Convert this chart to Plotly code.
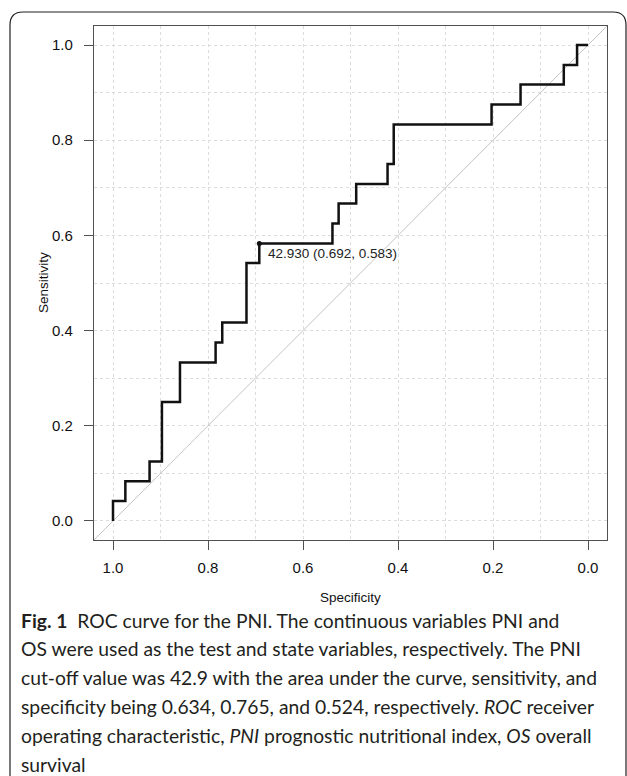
import plotly.graph_objects as go

# ---- data ----
specificity = [1.0, 1.0, 0.974, 0.974, 0.923, 0.923, 0.897, 0.897, 0.859, 0.859,
               0.784, 0.784, 0.770, 0.770, 0.719, 0.719, 0.692, 0.692, 0.538, 0.538,
               0.525, 0.525, 0.488, 0.488, 0.422, 0.422, 0.409, 0.409, 0.203, 0.203,
               0.142, 0.142, 0.051, 0.051, 0.023, 0.023, 0.0]
sensitivity = [0.0, 0.0417, 0.0417, 0.0833, 0.0833, 0.125, 0.125, 0.25, 0.25, 0.333,
               0.333, 0.375, 0.375, 0.417, 0.417, 0.542, 0.542, 0.583, 0.583, 0.625,
               0.625, 0.667, 0.667, 0.708, 0.708, 0.75, 0.75, 0.833, 0.833, 0.875,
               0.875, 0.917, 0.917, 0.958, 0.958, 1.0, 1.0]
cutoff_label = "42.930"
cutoff_spec = 0.692
cutoff_sens = 0.583
tick_vals = [1.0, 0.8, 0.6, 0.4, 0.2, 0.0]
tick_text = ["1.0", "0.8", "0.6", "0.4", "0.2", "0.0"]
x_title = "Specificity"
y_title = "Sensitivity"
caption_lines = [
    "<b>Fig. 1</b>  ROC curve for the PNI. The continuous variables PNI and",
    "OS were used as the test and state variables, respectively. The PNI",
    "cut-off value was 42.9 with the area under the curve, sensitivity, and",
    "specificity being 0.634, 0.765, and 0.524, respectively. <i>ROC</i> receiver",
    "operating characteristic, <i>PNI</i> prognostic nutritional index, <i>OS</i> overall",
    "survival",
]

# ---- layout geometry (pixels) ----
W, H = 627, 776
L, R, T, B = 94, 20, 26, 236
XR = [1.04, -0.04]
YR = [-0.04, 1.04]
pw, ph = W - L - R, H - T - B

def px(x):
    return (x - L) / pw

def py(y):
    return (H - B - y) / ph

tick_font = dict(family="Liberation Sans, Arial, sans-serif", size=15, color="#111")

fig = go.Figure()

# chance diagonal across the plot region
fig.add_trace(go.Scatter(x=[XR[0], XR[1]], y=[YR[0], YR[1]], mode="lines",
                         line=dict(color="#c4c4c4", width=1), hoverinfo="skip",
                         showlegend=False))
# ROC curve
fig.add_trace(go.Scatter(x=specificity, y=sensitivity, mode="lines",
                         line=dict(color="#111111", width=2.5), showlegend=False))
# cut-off point
fig.add_trace(go.Scatter(x=[cutoff_spec], y=[cutoff_sens], mode="markers",
                         marker=dict(color="#111111", size=5), showlegend=False))

fig.add_annotation(x=cutoff_spec, y=cutoff_sens, xref="x", yref="y",
                   text=f"{cutoff_label} ({cutoff_spec:.3f}, {cutoff_sens:.3f})",
                   showarrow=False, xanchor="left", yanchor="middle",
                   xshift=7, yshift=-10,
                   font=dict(family="Liberation Sans, Arial, sans-serif", size=13.5, color="#222"))

axis_common = dict(
    showline=True, linecolor="#505050", linewidth=1.3, mirror=True,
    ticks="outside", ticklen=9, tickwidth=1.2, tickcolor="#505050",
    showgrid=True, gridcolor="#dcdcdc", griddash="dot", gridwidth=1,
    zeroline=False, tickfont=tick_font,
    minor=dict(dtick=0.1, tick0=0, showgrid=True, gridcolor="#dcdcdc",
               griddash="dot", gridwidth=1, ticks=""),
)

fig.update_xaxes(range=XR, tickvals=tick_vals, ticktext=tick_text,
                 ticklabelstandoff=5, **axis_common)
fig.update_yaxes(range=YR, tickvals=tick_vals, ticktext=tick_text,
                 ticklabelstandoff=8, **axis_common)

# axis titles
fig.add_annotation(x=px((L + W - R) / 2), y=py(597), xref="paper", yref="paper",
                   text=x_title, showarrow=False, xanchor="center", yanchor="middle",
                   font=dict(family="Liberation Sans, Arial, sans-serif", size=13.5, color="#111"))
fig.add_annotation(x=px(43), y=py((T + H - B) / 2), xref="paper", yref="paper",
                   text=y_title, showarrow=False, xanchor="center", yanchor="middle",
                   textangle=-90,
                   font=dict(family="Liberation Sans, Arial, sans-serif", size=13.5, color="#111"))

# caption
line_y0, line_dy = 620, 28.8
for i, line in enumerate(caption_lines):
    fig.add_annotation(x=px(19), y=py(line_y0 + i * line_dy), xref="paper", yref="paper",
                       text=line, showarrow=False, xanchor="left", yanchor="middle",
                       align="left",
                       font=dict(family="Lato, Open Sans, sans-serif", size=19.3, color="#231f20"))

# rounded outer border
x0, y0, x1, y1, r = 10, 12, 626, 800, 13
path = (f"M {px(x0)},{py(y1)} L {px(x0)},{py(y0 + r)} "
        f"Q {px(x0)},{py(y0)} {px(x0 + r)},{py(y0)} "
        f"L {px(x1 - r)},{py(y0)} Q {px(x1)},{py(y0)} {px(x1)},{py(y0 + r)} "
        f"L {px(x1)},{py(y1)}")
fig.add_shape(type="path", path=path, xref="paper", yref="paper",
              line=dict(color="#231f20", width=1.2), layer="above")

fig.update_layout(width=W, height=H, margin=dict(l=L, r=R, t=T, b=B, autoexpand=False),
                  plot_bgcolor="white", paper_bgcolor="white", showlegend=False)

fig.write_html("out.html")
